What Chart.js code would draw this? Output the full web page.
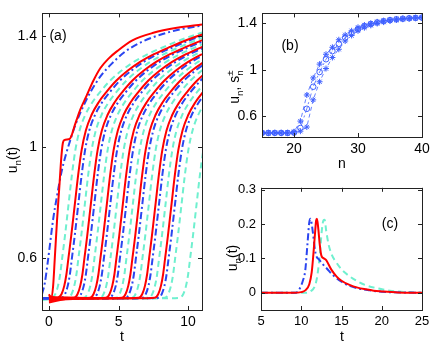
<!DOCTYPE html>
<html>
<head>
<meta charset="utf-8">
<script src="https://cdn.jsdelivr.net/npm/chart.js@4.4.0/dist/chart.umd.min.js"></script>
<style>
html, body { margin: 0; padding: 0; background: #fff; }
#wrap { position: relative; width: 436px; height: 347px; }
canvas { position: absolute; }
</style>
</head>
<body>
<div id="wrap">
  <canvas id="ca" style="left:0px;top:0px" width="210" height="347"></canvas>
  <canvas id="cb" style="left:215px;top:0px" width="221" height="175"></canvas>
  <canvas id="cc" style="left:215px;top:175px" width="221" height="172"></canvas>
</div>
<script>
// ---- panel (a): u_n(t) ----
// shape of one front: time relative to the u=1 crossing, and value
const profDt = [-3, -1.7, -1.45, -1.25, -1.1, -0.95, -0.75, -0.5, -0.25, 0, 0.3, 0.7, 1.2, 1.8, 2.5, 3.3, 4.2, 5.2, 6.4, 7.6, 8.8, 10, 12];
const profU  = [0.455, 0.457, 0.47, 0.5, 0.54, 0.6, 0.68, 0.79, 0.9, 0.99, 1.06, 1.115, 1.16, 1.2, 1.24, 1.275, 1.307, 1.335, 1.362, 1.387, 1.408, 1.426, 1.45];
// time at which each curve crosses u = 1
const redT  = [2.35, 3.5, 4.65, 5.8, 6.95, 8.15, 9.3];
const blueT = [2.6, 3.75, 4.9, 6.05, 7.2, 8.4, 9.55];
const cyanT = [1.9, 3.07, 4.22, 5.37, 6.52, 7.67, 8.87, 10.02, 11.1];
// starting values of the red curves at t = 0
const redStart = [0.445, 0.465, 0.44, 0.46, 0.45, 0.458, 0.452];
// first red curve, with its plateau
const red0T = [0, 0.15, 0.3, 0.42, 0.58, 0.75, 0.9, 1.0, 1.1, 1.5, 1.65, 1.8, 2.0, 2.25, 2.7, 3.2, 3.7, 4.3, 4.9, 6.0, 7.5, 9.2, 11];
const red0U = [0.47, 0.455, 0.5, 0.6, 0.736, 0.86, 0.97, 1.015, 1.025, 1.03, 1.045, 1.07, 1.1, 1.135, 1.185, 1.24, 1.285, 1.32, 1.346, 1.385, 1.412, 1.43, 1.442];
// first blue curve, rising before the first red and then running just under it
const blue0T = [-0.5, -0.3, -0.1, 0.1, 0.3, 0.6, 0.9, 1.2, 1.5, 1.9, 2.4, 3.0, 3.7, 4.5, 5.5, 6.7, 8.0, 9.5, 11];
const blue0U = [0.47, 0.51, 0.58, 0.66, 0.74, 0.83, 0.91, 0.97, 1.02, 1.08, 1.14, 1.2, 1.255, 1.3, 1.345, 1.38, 1.405, 1.425, 1.438];
const aTicksX = [0, 5, 10];
const aTicksY = [0.6, 1, 1.4];

// ---- panel (b): profile along the chain ----
const nVals = [15, 16, 17, 18, 19, 20, 21, 22, 23, 24, 25, 26, 27, 28, 29, 30, 31, 32, 33, 34, 35, 36, 37, 38, 39, 40];
const uCirc = [0.455, 0.455, 0.455, 0.455, 0.455, 0.458, 0.498, 0.663, 0.853, 0.98, 1.09, 1.16, 1.223, 1.275, 1.315, 1.35, 1.375, 1.393, 1.407, 1.418, 1.427, 1.434, 1.439, 1.443, 1.446, 1.449];
const sUp   = [0.455, 0.455, 0.455, 0.455, 0.455, 0.465, 0.557, 0.782, 0.929, 1.048, 1.133, 1.193, 1.258, 1.3, 1.335, 1.365, 1.385, 1.4, 1.412, 1.422, 1.43, 1.437, 1.441, 1.445, 1.448, 1.45];
const sLow  = [0.455, 0.455, 0.455, 0.455, 0.455, 0.455, 0.47, 0.506, 0.74, 0.896, 1.01, 1.105, 1.176, 1.247, 1.295, 1.335, 1.362, 1.382, 1.398, 1.41, 1.42, 1.428, 1.435, 1.44, 1.444, 1.447];
const bTicksX = [20, 30, 40];
const bTicksY = [0.6, 1, 1.4];

// ---- panel (c): u_n(t) at one site ----
const cRedT  = [5, 9, 10, 10.5, 11, 11.3, 11.5, 11.7, 11.85, 11.95, 12.1, 12.3, 12.5, 12.8, 13.1, 13.4, 13.8, 14.4, 15, 16, 17, 18, 19, 20, 22, 25];
const cRedU  = [0, 0, 0.002, 0.007, 0.025, 0.06, 0.11, 0.17, 0.21, 0.215, 0.19, 0.14, 0.108, 0.1, 0.095, 0.082, 0.065, 0.047, 0.035, 0.023, 0.015, 0.01, 0.006, 0.004, 0.001, 0];
const cBlueT = [5, 9.3, 9.8, 10.2, 10.5, 10.75, 11.0, 11.15, 11.3, 11.5, 11.7, 11.9, 12.2, 12.6, 13.2, 14, 15, 16, 17, 18.5, 20, 25];
const cBlueU = [0, 0, 0.012, 0.035, 0.065, 0.135, 0.205, 0.215, 0.2, 0.165, 0.125, 0.105, 0.097, 0.085, 0.07, 0.05, 0.032, 0.02, 0.013, 0.007, 0.003, 0];
const cCyanT = [5, 10.5, 11.2, 11.7, 12.0, 12.3, 12.55, 12.75, 12.9, 13.1, 13.4, 13.8, 14.3, 15, 16, 17, 18, 19.5, 21, 25];
const cCyanU = [0, 0, 0.005, 0.02, 0.05, 0.11, 0.18, 0.21, 0.212, 0.18, 0.14, 0.11, 0.09, 0.068, 0.048, 0.033, 0.022, 0.013, 0.006, 0];
const cTicksX = [5, 10, 15, 20, 25];
const cTicksY = [0, 0.1, 0.2, 0.3];

const FONT = '"Liberation Sans", Helvetica, Arial, sans-serif';
const RED = '#ff0000';
const BLUE = '#2b45f0';
const CYAN = '#6ff0cf';
const BLUE_B = '#3f60ff';

function zip(xs, ys) {
  return xs.map((x, i) => ({ x: x, y: ys[i] }));
}

function shifted(t1, start, startVal) {
  const pts = [{ x: start, y: startVal }];
  profDt.forEach((d, i) => {
    if (t1 + d > start + 0.4) pts.push({ x: t1 + d, y: profU[i] });
  });
  return pts;
}

function line(data, color, dash, order) {
  return {
    data: data, borderColor: color, borderWidth: 2, borderDash: dash,
    pointRadius: 0, fill: false, cubicInterpolationMode: 'monotone', order: order
  };
}

// draws a label made of pieces; sub = subscript, sup = superscript
function drawParts(ctx, parts, cx, cy, size, rotate) {
  ctx.save();
  ctx.translate(cx, cy);
  if (rotate) ctx.rotate(-Math.PI / 2);
  ctx.fillStyle = '#000';
  ctx.textBaseline = 'alphabetic';
  let w = 0;
  parts.forEach(p => {
    ctx.font = (p.k ? size * 0.7 : size) + 'px ' + FONT;
    if (!p.stack) w += ctx.measureText(p.t).width;
  });
  let x = -w / 2;
  const base = size * 0.35;
  parts.forEach(p => {
    ctx.font = (p.k ? size * 0.7 : size) + 'px ' + FONT;
    let dy = 0;
    if (p.k === 'sub') dy = size * 0.3;
    if (p.k === 'sup') dy = -size * 0.45;
    ctx.fillText(p.t, x, base + dy);
    if (!p.stack) x += ctx.measureText(p.t).width;
  });
  ctx.restore();
}

const framePlugin = {
  id: 'frame',
  afterDatasetsDraw(chart, args, opts) {
    const ctx = chart.ctx;
    const a = chart.chartArea;
    const xs = chart.scales.x, ys = chart.scales.y;
    ctx.save();
    ctx.strokeStyle = '#222';
    ctx.lineWidth = 1;
    ctx.strokeRect(Math.round(a.left) + 0.5, Math.round(a.top) + 0.5,
      Math.round(a.right - a.left), Math.round(a.bottom - a.top));
    ctx.beginPath();
    const L = 4;
    opts.xTicks.forEach(v => {
      const px = Math.round(xs.getPixelForValue(v)) + 0.5;
      ctx.moveTo(px, a.bottom); ctx.lineTo(px, a.bottom - L);
      ctx.moveTo(px, a.top); ctx.lineTo(px, a.top + L);
    });
    opts.yTicks.forEach(v => {
      const py = Math.round(ys.getPixelForValue(v)) + 0.5;
      ctx.moveTo(a.left, py); ctx.lineTo(a.left + L, py);
      ctx.moveTo(a.right, py); ctx.lineTo(a.right - L, py);
    });
    ctx.stroke();
    ctx.restore();
    ctx.save();
    ctx.fillStyle = '#000';
    ctx.font = '14px ' + FONT;
    ctx.textAlign = 'center';
    ctx.textBaseline = 'middle';
    ctx.fillText(opts.label, opts.labelPos[0], opts.labelPos[1]);
    ctx.fillText(opts.xTitle, opts.xTitlePos[0], opts.xTitlePos[1]);
    ctx.restore();
    drawParts(ctx, opts.yTitle, opts.yTitlePos[0], opts.yTitlePos[1], 14, true);
  }
};

function options(p) {
  const tickFont = { family: FONT, size: p.fs };
  return {
    responsive: false, animation: false, events: [],
    layout: { padding: { top: p.top, right: p.right, left: 0, bottom: 0 } },
    plugins: { legend: { display: false }, tooltip: { enabled: false }, frame: p.frame },
    scales: {
      x: {
        type: 'linear', min: p.xMin, max: p.xMax,
        grid: { display: false, drawTicks: false }, border: { display: false },
        afterFit: s => { s.height = p.xH; },
        afterBuildTicks: s => { s.ticks = p.frame.xTicks.map(v => ({ value: v })); },
        ticks: { padding: 4, color: '#000', font: tickFont, maxRotation: 0, autoSkip: false, callback: v => String(v) }
      },
      y: {
        type: 'linear', min: p.yMin, max: p.yMax,
        grid: { display: false, drawTicks: false }, border: { display: false },
        afterFit: s => { s.width = p.yW; },
        afterBuildTicks: s => { s.ticks = p.frame.yTicks.map(v => ({ value: v })); },
        ticks: { padding: 5, color: '#000', font: tickFont, autoSkip: false, callback: v => String(v) }
      }
    }
  };
}

Chart.register(framePlugin);

// panel (a)
const aSets = [];
aSets.push(line(zip(red0T, red0U), RED, [], 0));
redT.forEach((t, i) => aSets.push(line(shifted(t, 0, redStart[i]), RED, [], 0)));
aSets.push(line(zip(blue0T, blue0U), BLUE, [7, 3, 2, 3], 1));
blueT.forEach(t => aSets.push(line(shifted(t, -0.5, 0.455), BLUE, [7, 3, 2, 3], 1)));
cyanT.forEach(t => aSets.push(line(shifted(t, -0.5, 0.452), CYAN, [6, 4], 2)));

new Chart(document.getElementById('ca'), {
  type: 'line',
  data: { datasets: aSets },
  options: options({
    top: 12, right: 8, xH: 37, yW: 42, fs: 14,
    xMin: -0.5, xMax: 11, yMin: 0.413, yMax: 1.482,
    frame: {
      xTicks: aTicksX, yTicks: aTicksY, label: '(a)', labelPos: [58, 36],
      xTitle: 't', xTitlePos: [122, 337],
      yTitle: [{ t: 'u' }, { t: 'n', k: 'sub' }, { t: '(t)' }], yTitlePos: [12, 160]
    }
  })
});

// panel (b)
function marks(ys, style, dash, r) {
  return {
    data: zip(nVals, ys), borderColor: BLUE_B, backgroundColor: BLUE_B, borderWidth: 0.8,
    borderDash: dash, pointStyle: style, pointRadius: r, pointBorderColor: BLUE_B,
    pointBackgroundColor: 'rgba(0,0,0,0)', pointBorderWidth: 1, fill: false, tension: 0
  };
}
new Chart(document.getElementById('cb'), {
  type: 'line',
  data: {
    datasets: [
      marks(uCirc, 'circle', [6, 3, 2, 3], 2.8),
      marks(sUp, 'star', [4, 3], 3),
      marks(sLow, 'star', [4, 3], 3)
    ]
  },
  options: options({
    top: 12, right: 14, xH: 38, yW: 47, fs: 14,
    xMin: 15, xMax: 40, yMin: 0.42, yMax: 1.485,
    frame: {
      xTicks: bTicksX, yTicks: bTicksY, label: '(b)', labelPos: [75, 46],
      xTitle: 'n', xTitlePos: [127, 164],
      yTitle: [{ t: 'u' }, { t: 'n', k: 'sub' }, { t: ', s' }, { t: '\u00b1', k: 'sup', stack: true }, { t: 'n', k: 'sub' }],
      yTitlePos: [19, 87]
    }
  })
});

// panel (c)
new Chart(document.getElementById('cc'), {
  type: 'line',
  data: {
    datasets: [
      line(zip(cRedT, cRedU), RED, [], 0),
      line(zip(cBlueT, cBlueU), BLUE, [7, 3, 2, 3], 1),
      line(zip(cCyanT, cCyanU), CYAN, [6, 4], 2)
    ]
  },
  options: options({
    top: 9, right: 14, xH: 37, yW: 46, fs: 13,
    xMin: 5, xMax: 25, yMin: -0.05, yMax: 0.305,
    frame: {
      xTicks: cTicksX, yTicks: cTicksY, label: '(c)', labelPos: [175, 49],
      xTitle: 't', xTitlePos: [127, 162],
      yTitle: [{ t: 'u' }, { t: 'n', k: 'sub' }, { t: '(t)' }], yTitlePos: [17, 83]
    }
  })
});
</script>
</body>
</html>
